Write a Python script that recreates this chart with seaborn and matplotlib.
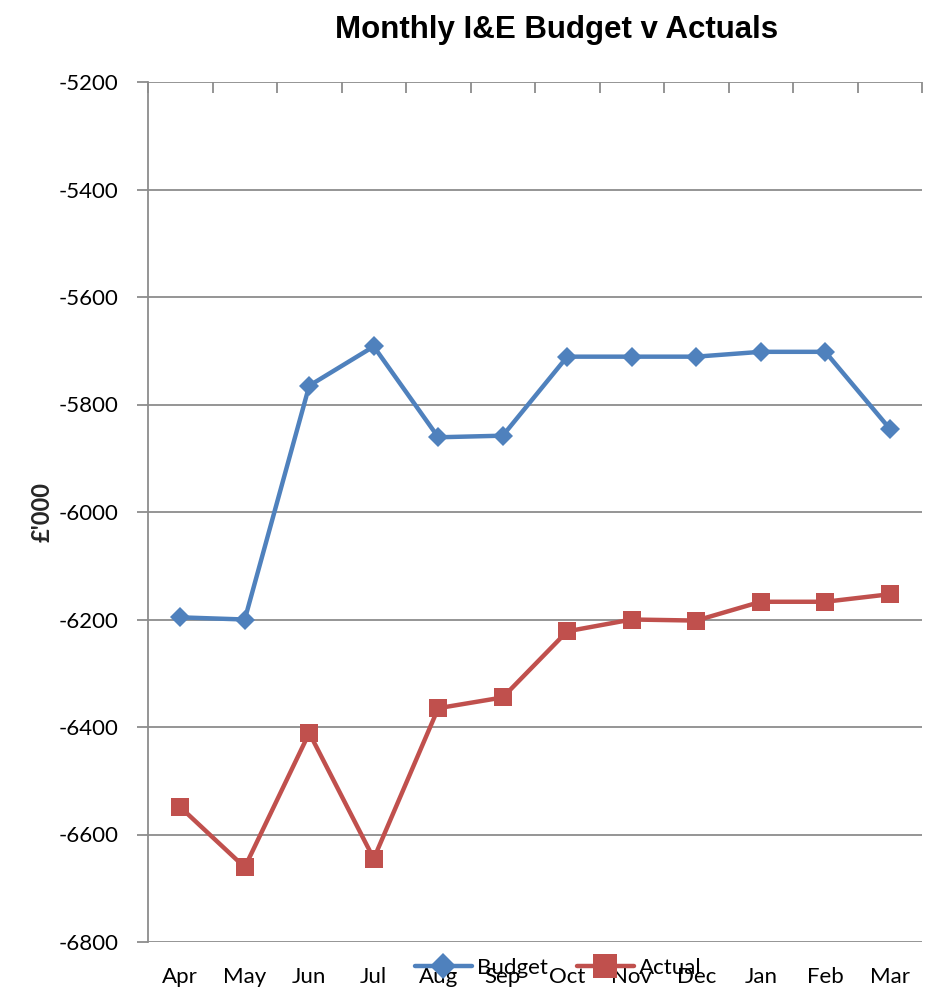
import matplotlib
matplotlib.use("Agg")
import matplotlib.pyplot as plt
from matplotlib.ticker import FixedLocator, MultipleLocator
import seaborn as sns
import pandas as pd

months = ["Apr", "May", "Jun", "Jul", "Aug", "Sep", "Oct", "Nov", "Dec", "Jan", "Feb", "Mar"]
budget = [-6196, -6200, -5765, -5692, -5861, -5858, -5711, -5711, -5711, -5702, -5702, -5845]
actual = [-6549, -6661, -6411, -6645, -6365, -6345, -6222, -6200, -6202, -6167, -6167, -6153]

sns.set_theme(style="white")
plt.rcParams["font.family"] = ["Lato", "DejaVu Sans"]
plt.rcParams["axes.unicode_minus"] = False
plt.rcParams["text.color"] = "black"
plt.rcParams["xtick.color"] = "black"
plt.rcParams["ytick.color"] = "black"

df = pd.DataFrame({"idx": range(len(months)), "Month": months,
                   "Budget": budget, "Actual": actual})

fig = plt.figure(figsize=(9.25, 9.91), dpi=100)
ax = fig.add_axes([148 / 925, 1 - 942 / 991, (922 - 148) / 925, (942 - 82) / 991])

blue = "#4F81BD"
red = "#C0504D"
grey = "#8c8c8c"

sns.lineplot(data=df, x="idx", y="Budget", ax=ax, color=blue, linewidth=3.2,
             marker="D", markersize=10, markeredgewidth=0, label="Budget")
sns.lineplot(data=df, x="idx", y="Actual", ax=ax, color=red, linewidth=3.2,
             marker="s", markersize=13, markeredgewidth=0, label="Actual")

ax.set_xlim(-0.5, len(months) - 0.5)
ax.set_ylim(-6800, -5200)
ax.yaxis.set_major_locator(MultipleLocator(200))
ax.grid(axis="y", color=grey, linewidth=1.3)
ax.set_axisbelow(True)

# Category labels along the bottom, boundary ticks hanging from the top line
ax.set_xticks(range(len(months)))
ax.set_xticklabels(months, fontsize=16)
ax.xaxis.set_minor_locator(FixedLocator([i - 0.5 for i in range(len(months) + 1)]))
ax.tick_params(axis="x", which="major", length=0, pad=18)
ax.tick_params(axis="x", which="minor", top=True, bottom=False, direction="in",
               length=8, width=1.3, color=grey)
ax.tick_params(axis="y", which="major", left=True, direction="out", length=8,
               width=1.3, color=grey, labelsize=16, pad=13)

for s in ["right", "bottom", "top"]:
    ax.spines[s].set_visible(False)
ax.spines["left"].set_color(grey)
ax.spines["left"].set_linewidth(1.3)

ax.set_xlabel("")
ax.set_ylabel("£'000", fontsize=17, fontweight="bold", labelpad=4)

fig.text(557 / 925, 1 - 30 / 991, "Monthly I&E Budget v Actuals", ha="center", va="center",
         fontsize=22.5, fontweight="bold", family=["Liberation Sans", "DejaVu Sans"])

ax.legend(loc="center", bbox_to_anchor=(558 / 925, 1 - 968 / 991),
          bbox_transform=fig.transFigure, ncol=2, frameon=False, fontsize=16,
          handlelength=2.6, columnspacing=1.3, handletextpad=0.2,
          borderpad=0, borderaxespad=0, markerscale=1.3)

fig.savefig("out.png", dpi=100)
